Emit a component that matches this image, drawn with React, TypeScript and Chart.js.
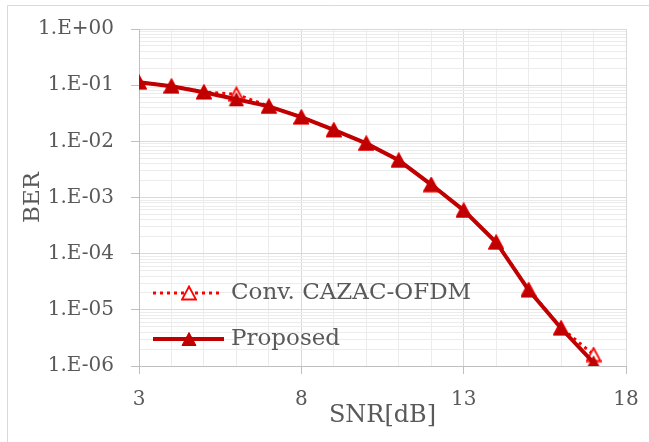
import React, { useEffect, useRef } from 'react';
import { Chart, registerables } from 'chart.js';

Chart.register(...registerables);

// ---- data ----
const snrDb = [3, 4, 5, 6, 7, 8, 9, 10, 11, 12, 13, 14, 15, 16, 17];
const convBer = [0.113, 0.096, 0.076, 0.069, 0.042, 0.027, 0.016, 0.0092, 0.0046, 0.0017, 5.9e-4, 1.6e-4, 2.3e-5, 4.8e-6, 1.6e-6];
const proposedBer = [0.113, 0.096, 0.075, 0.056, 0.042, 0.027, 0.016, 0.0092, 0.0046, 0.0017, 5.9e-4, 1.6e-4, 2.24e-5, 4.7e-6, 1.15e-6];
const xLabelTicks = [3, 8, 13, 18];
const seriesNames = ['Conv. CAZAC-OFDM', 'Proposed'];
const xTitle = 'SNR[dB]';
const yTitle = 'BER';

const FONT = "'DejaVu Serif', serif";
const TEXT = '#595959';
const MAJOR_GRID = '#D9D9D9';
const MINOR_GRID = '#ECECEC';
const AXIS = '#BFBFBF';
const CONV_COLOR = '#FF0000';
const PROP_COLOR = '#C00000';

function makeTriangle(fill: string, stroke: string, lw: number): HTMLCanvasElement {
  const c = document.createElement('canvas');
  c.width = 16;
  c.height = 16;
  const g = c.getContext('2d')!;
  g.beginPath();
  g.moveTo(8, 1.5);
  g.lineTo(15, 14.5);
  g.lineTo(1, 14.5);
  g.closePath();
  g.fillStyle = fill;
  g.fill();
  g.lineWidth = lw;
  g.strokeStyle = stroke;
  g.stroke();
  return c;
}

function isDecade(v: number): boolean {
  const e = Math.round(Math.log10(v));
  return Math.abs(v / Math.pow(10, e) - 1) < 1e-9;
}

function decadeLabel(v: number): string {
  const e = Math.round(Math.log10(v));
  const sign = e < 0 ? '-' : '+';
  const a = Math.abs(e);
  return '1.E' + sign + (a < 10 ? '0' + a : String(a));
}

export default function App() {
  const ref = useRef<HTMLCanvasElement | null>(null);

  useEffect(() => {
    document.body.style.margin = '0';
    const canvas = ref.current!;
    const openTri = makeTriangle('#FFFFFF', CONV_COLOR, 1.8);
    const fillTri = makeTriangle(PROP_COLOR, PROP_COLOR, 1);

    const framePlugin = {
      id: 'frame',
      beforeDraw(chart: any) {
        const ctx = chart.ctx;
        ctx.save();
        ctx.fillStyle = '#FFFFFF';
        ctx.fillRect(0, 0, chart.width, chart.height);
        ctx.strokeStyle = MAJOR_GRID;
        ctx.lineWidth = 1;
        ctx.beginPath();
        ctx.moveTo(7.5, chart.height);
        ctx.lineTo(7.5, 5.5);
        ctx.lineTo(chart.width, 5.5);
        ctx.stroke();
        ctx.restore();
      },
    };

    const legendPlugin = {
      id: 'customLegend',
      afterDraw(chart: any) {
        const ctx = chart.ctx;
        const a = chart.chartArea;
        const x0 = a.left + 14;
        const mid = a.left + 50;
        const textX = a.left + 92;
        const rows = [a.bottom - 73, a.bottom - 27];
        ctx.save();
        // row 1: conv
        ctx.strokeStyle = CONV_COLOR;
        ctx.lineWidth = 3;
        ctx.setLineDash([3, 4]);
        ctx.beginPath();
        ctx.moveTo(x0, rows[0]);
        ctx.lineTo(x0 + 66, rows[0]);
        ctx.stroke();
        ctx.setLineDash([]);
        ctx.drawImage(openTri, mid - 8, rows[0] - 8);
        // row 2: proposed
        ctx.strokeStyle = PROP_COLOR;
        ctx.lineWidth = 4;
        ctx.beginPath();
        ctx.moveTo(x0, rows[1]);
        ctx.lineTo(x0 + 71, rows[1]);
        ctx.stroke();
        ctx.drawImage(fillTri, mid - 8, rows[1] - 8);
        ctx.fillStyle = TEXT;
        ctx.font = '23px ' + FONT;
        ctx.textBaseline = 'middle';
        ctx.textAlign = 'left';
        ctx.fillText(seriesNames[0], textX, rows[0]);
        ctx.fillText(seriesNames[1], textX, rows[1]);
        ctx.restore();
      },
    };

    const chart = new Chart(canvas, {
      type: 'line',
      data: {
        datasets: [
          {
            label: seriesNames[0],
            data: snrDb.map((x, i) => ({ x, y: convBer[i] })),
            borderColor: CONV_COLOR,
            borderWidth: 3,
            borderDash: [3, 4],
            pointStyle: openTri as any,
            pointRadius: 8,
            order: 1,
            tension: 0,
          },
          {
            label: seriesNames[1],
            data: snrDb.map((x, i) => ({ x, y: proposedBer[i] })),
            borderColor: PROP_COLOR,
            borderWidth: 4,
            pointStyle: fillTri as any,
            pointRadius: 8,
            order: 0,
            tension: 0,
          },
        ],
      },
      options: {
        responsive: false,
        animation: false,
        events: [],
        layout: { padding: { left: 0, top: 24, right: 23, bottom: 0 } },
        plugins: {
          legend: { display: false },
          tooltip: { enabled: false },
          title: { display: false },
        },
        scales: {
          x: {
            type: 'linear',
            min: 3,
            max: 18,
            afterFit(scale: any) {
              scale.height = 76;
              scale.paddingLeft = 0;
              scale.paddingRight = 0;
            },
            ticks: {
              stepSize: 1,
              autoSkip: false,
              maxRotation: 0,
              padding: 14,
              color: TEXT,
              font: { family: FONT, size: 20 },
              callback: (v: any) => (xLabelTicks.includes(Number(v)) ? String(v) : ''),
            },
            grid: {
              color: (c: any) => (c.tick && xLabelTicks.includes(c.tick.value) ? MAJOR_GRID : MINOR_GRID),
              tickColor: (c: any) => (c.tick && xLabelTicks.includes(c.tick.value) ? AXIS : 'rgba(0,0,0,0)'),
              tickLength: 8,
              lineWidth: 1,
            },
            border: { display: true, color: AXIS, width: 1 },
            title: {
              display: true,
              text: xTitle,
              color: TEXT,
              font: { family: FONT, size: 24 },
              padding: { top: 0, bottom: 12 },
            },
          },
          y: {
            type: 'logarithmic',
            min: 1e-6,
            max: 1,
            afterFit(scale: any) {
              scale.width = 139;
            },
            afterBuildTicks(scale: any) {
              const ticks: any[] = [];
              for (let e = -6; e <= 0; e++) {
                for (let m = 1; m <= 9; m++) {
                  const v = m * Math.pow(10, e);
                  if (v > 1 + 1e-12) break;
                  ticks.push({ value: v });
                }
              }
              scale.ticks = ticks;
            },
            ticks: {
              autoSkip: false,
              padding: 17,
              color: TEXT,
              font: { family: FONT, size: 20 },
              callback: (v: any) => (isDecade(Number(v)) ? decadeLabel(Number(v)) : ''),
            },
            grid: {
              color: (c: any) => (c.tick && isDecade(c.tick.value) ? MAJOR_GRID : MINOR_GRID),
              tickColor: (c: any) => (c.tick && isDecade(c.tick.value) ? AXIS : 'rgba(0,0,0,0)'),
              tickLength: 8,
              lineWidth: 1,
            },
            border: { display: true, color: AXIS, width: 1 },
            title: {
              display: true,
              text: yTitle,
              color: TEXT,
              font: { family: FONT, size: 23 },
              padding: { top: 19, bottom: 0 },
            },
          },
        },
      },
      plugins: [framePlugin, legendPlugin],
    } as any);

    return () => chart.destroy();
  }, []);

  return (
    <div style={{ position: 'fixed', left: 0, top: 0, width: 649, height: 442 }}>
      <canvas ref={ref} width={649} height={442} style={{ display: 'block', width: 649, height: 442 }} />
    </div>
  );
}
